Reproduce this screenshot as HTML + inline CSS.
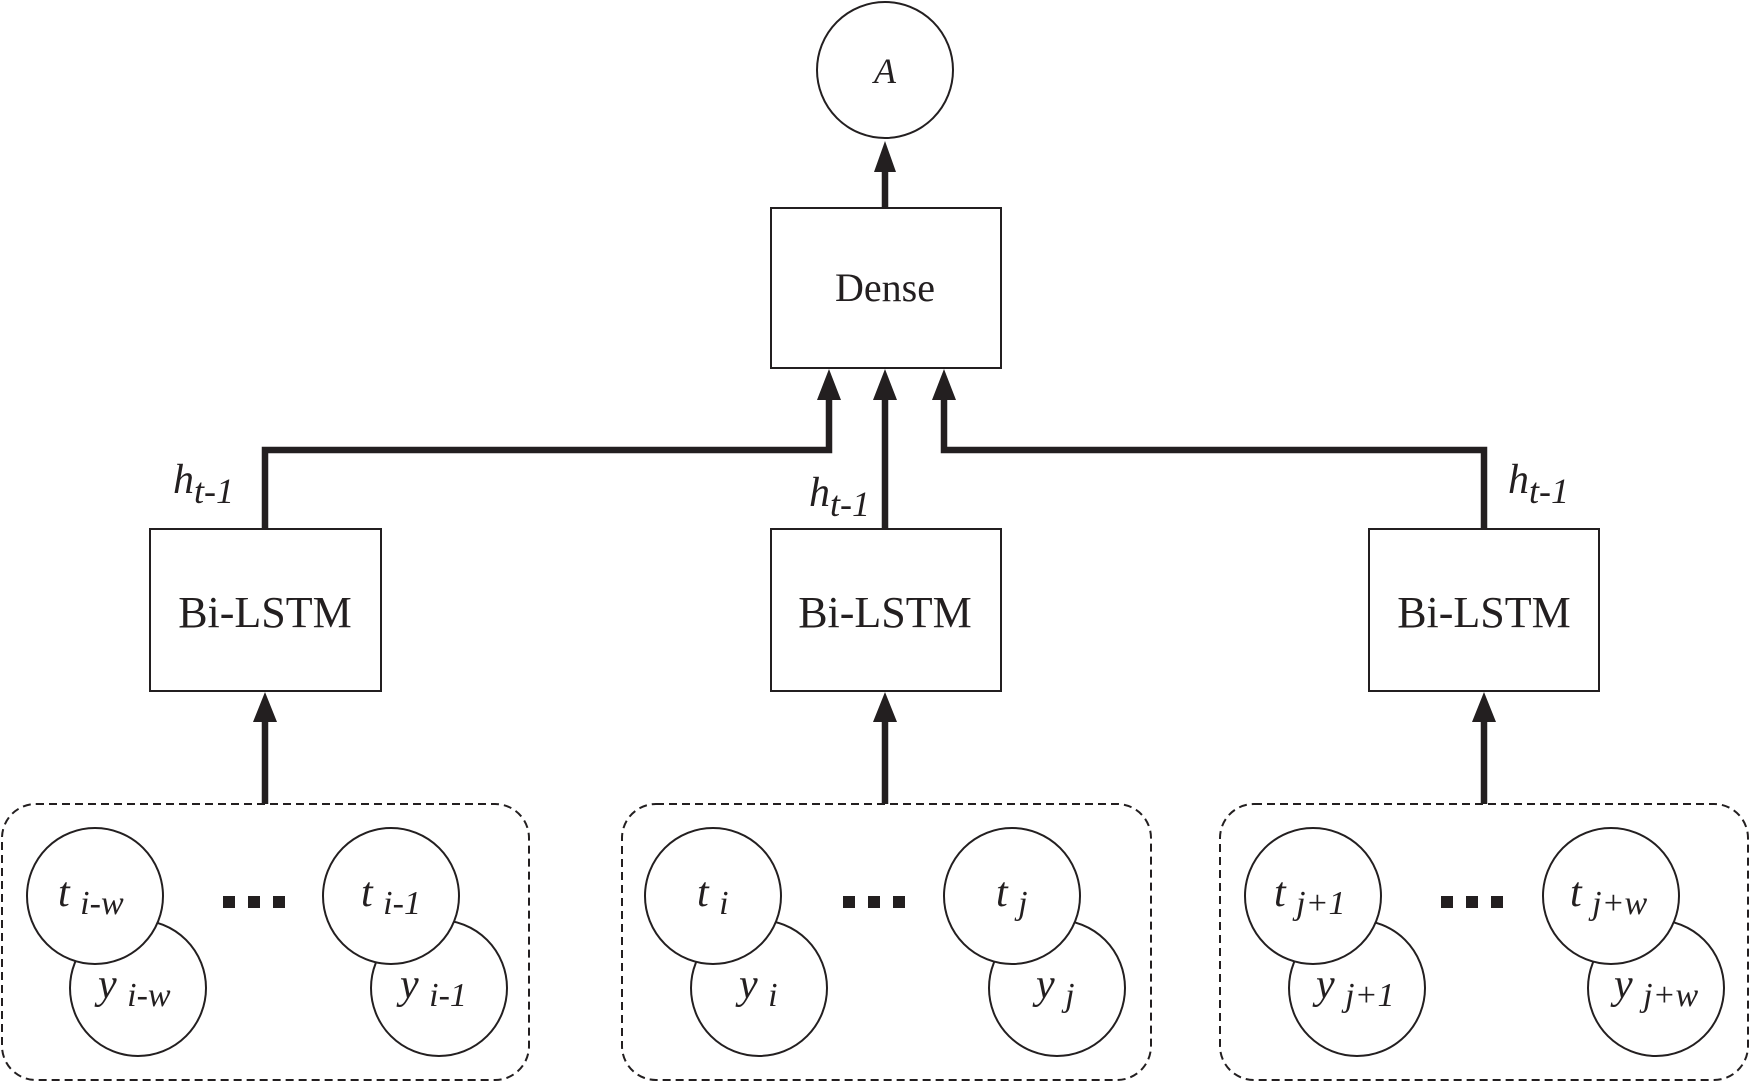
<!DOCTYPE html>
<html><head><meta charset="utf-8"><style>body{margin:0;background:#fff}svg{display:block}</style></head><body>
<svg width="1750" height="1083" viewBox="0 0 1750 1083" xmlns="http://www.w3.org/2000/svg" font-family="Liberation Serif, serif" fill="none" stroke="#231f20">
<g stroke-width="2" fill="#fff">
<ellipse cx="885" cy="70" rx="68" ry="68"/>
<rect x="771" y="208" width="230" height="160"/>
<rect x="150" y="529" width="231" height="162"/>
<rect x="771" y="529" width="230" height="162"/>
<rect x="1369" y="529" width="230" height="162"/>
</g>
<g stroke-width="6.5" stroke-linejoin="miter">
<path d="M885 208 V172" /><path d="M874 172 L885 141 L896 172Z" fill="#231f20" stroke="none"/>
<path d="M265 529 V450 H829 V400"/><path d="M817 400 L829 369 L841 400Z" fill="#231f20" stroke="none"/>
<path d="M885 529 V400"/><path d="M873 400 L885 369 L897 400Z" fill="#231f20" stroke="none"/>
<path d="M1484 529 V450 H944 V400"/><path d="M932 400 L944 369 L956 400Z" fill="#231f20" stroke="none"/>
<path d="M265 804 V722"/><path d="M253 722 L265 692 L277 722Z" fill="#231f20" stroke="none"/>
<path d="M885 804 V722"/><path d="M873 722 L885 692 L897 722Z" fill="#231f20" stroke="none"/>
<path d="M1484 804 V722"/><path d="M1472 722 L1484 692 L1496 722Z" fill="#231f20" stroke="none"/>
</g>
<g stroke-width="2" stroke-dasharray="8 5">
<rect x="2" y="804" width="527" height="276" rx="34"/>
<rect x="622" y="804" width="529" height="276" rx="34"/>
<rect x="1220" y="804" width="528" height="276" rx="34"/>
</g>
<g stroke-width="2" fill="#fff">
<circle cx="138" cy="988" r="68"/><circle cx="95" cy="896" r="68"/>
<circle cx="439" cy="988" r="68"/><circle cx="391" cy="896" r="68"/>
<circle cx="759" cy="988" r="68"/><circle cx="713" cy="896" r="68"/>
<circle cx="1057" cy="988" r="68"/><circle cx="1012" cy="896" r="68"/>
<circle cx="1357" cy="988" r="68"/><circle cx="1313" cy="896" r="68"/>
<circle cx="1656" cy="988" r="68"/><circle cx="1611" cy="896" r="68"/>
</g>
<g fill="#231f20" stroke="none">
<rect x="223" y="896" width="12" height="12"/><rect x="248" y="896" width="12" height="12"/><rect x="273" y="896" width="12" height="12"/>
<rect x="843" y="896" width="12" height="12"/><rect x="868" y="896" width="12" height="12"/><rect x="893" y="896" width="12" height="12"/>
<rect x="1441" y="896" width="12" height="12"/><rect x="1466" y="896" width="12" height="12"/><rect x="1491" y="896" width="12" height="12"/>
</g>
<g fill="#231f20" stroke="none" text-anchor="middle">
<text x="885" y="83" font-size="36" font-style="italic">A</text>
<text x="885" y="301" font-size="40">Dense</text>
<text x="265" y="627" font-size="44">Bi-LSTM</text>
<text x="885" y="627" font-size="44">Bi-LSTM</text>
<text x="1484" y="627" font-size="44">Bi-LSTM</text>
</g>
<g fill="#231f20" stroke="none" font-style="italic" font-size="42">
<text x="173" y="493">h<tspan font-size="36" dy="10">t-1</tspan></text>
<text x="809" y="506">h<tspan font-size="36" dy="10">t-1</tspan></text>
<text x="1508" y="493">h<tspan font-size="36" dy="10">t-1</tspan></text>
<text x="58" y="906">t <tspan font-size="34" dy="8">i-w</tspan></text>
<text x="98" y="998">y <tspan font-size="34" dy="8">i-w</tspan></text>
<text x="361" y="906">t <tspan font-size="34" dy="8">i-1</tspan></text>
<text x="400" y="998">y <tspan font-size="34" dy="8">i-1</tspan></text>
<text x="697" y="906">t <tspan font-size="34" dy="8">i</tspan></text>
<text x="739" y="998">y <tspan font-size="34" dy="8">i</tspan></text>
<text x="996" y="906">t <tspan font-size="34" dy="8">j</tspan></text>
<text x="1036" y="998">y <tspan font-size="34" dy="8">j</tspan></text>
<text x="1274" y="906">t <tspan font-size="34" dy="8">j+1</tspan></text>
<text x="1316" y="998">y <tspan font-size="34" dy="8">j+1</tspan></text>
<text x="1570" y="906">t <tspan font-size="34" dy="8">j+w</tspan></text>
<text x="1614" y="998">y <tspan font-size="34" dy="8">j+w</tspan></text>
</g>
</svg>
</body></html>
